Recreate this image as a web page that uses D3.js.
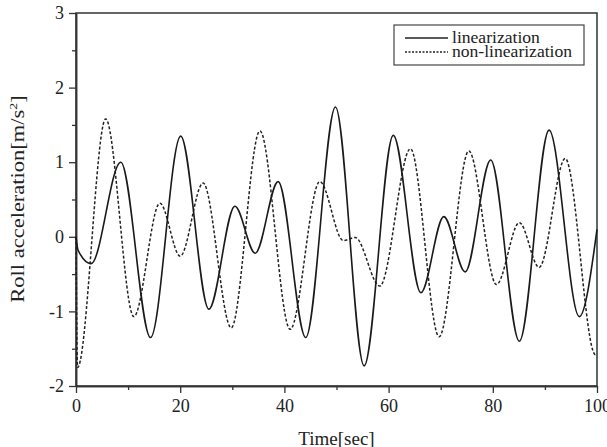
<!DOCTYPE html>
<html>
<head>
<meta charset="utf-8">
<script src="https://cdn.jsdelivr.net/npm/d3@7"></script>
<style>
  body { margin: 0; background: #fff; }
  text { font-family: "Liberation Serif", "Times New Roman", serif; fill: #222; }
</style>
</head>
<body>
<svg id="chart"></svg>
<script>
// data (time in sec, roll acceleration in m/s^2)
const linTime = [0, 0.4, 2.9, 8.6, 14.3, 20.1, 25.5, 30.5, 34.4, 38.8, 44.1, 49.8, 55.3, 60.9, 66.2, 70.6, 74.7, 79.6, 85.1, 90.8, 96.6, 100];
const linVal  = [0, -0.18, -0.36, 1.0, -1.35, 1.35, -0.97, 0.41, -0.22, 0.74, -1.35, 1.74, -1.73, 1.36, -0.75, 0.27, -0.47, 1.03, -1.40, 1.43, -1.07, 0.10];

const nonTime = [0, 0.3, 5.7, 11.1, 16.1, 20.0, 24.4, 29.8, 35.3, 41.1, 46.8, 51.3, 53.6, 58.3, 64.2, 69.7, 75.4, 80.7, 85.1, 88.9, 93.9, 99.7, 100];
const nonVal  = [0, -1.75, 1.58, -1.07, 0.45, -0.26, 0.72, -1.22, 1.42, -1.24, 0.74, -0.05, -0.01, -0.66, 1.18, -1.34, 1.15, -0.64, 0.19, -0.41, 1.05, -1.58, -1.57];

const xTicks = [0, 20, 40, 60, 80, 100];
const xMinor = [10, 30, 50, 70, 90];
const yTicks = [-2, -1, 0, 1, 2, 3];
const yMinor = [-1.5, -0.5, 0.5, 1.5, 2.5];

const seriesNames = ["linearization", "non-linearization"];

// layout
var margin = {top: 13, right: 10, bottom: 61, left: 76},
    W = 607, H = 447,
    width = W - margin.left - margin.right,
    height = H - margin.top - margin.bottom;

const svg = d3.select("#chart").attr("width", W).attr("height", H);
const g = svg.append("g").attr("transform", `translate(${margin.left},${margin.top})`);

const x = d3.scaleLinear().domain([0, 100]).range([0, width]);
const y = d3.scaleLinear().domain([-2, 3]).range([height, 0]);

const axisColor = "#333";

// frame
g.append("rect")
  .attr("width", width).attr("height", height)
  .attr("fill", "none").attr("stroke", axisColor).attr("stroke-width", 1.5);

// x axis (major + minor)
g.append("g").attr("transform", `translate(0,${height})`)
  .call(d3.axisBottom(x).tickValues(xTicks).tickSize(7).tickSizeOuter(0).tickPadding(6));
g.append("g").attr("transform", `translate(0,${height})`)
  .call(d3.axisBottom(x).tickValues(xMinor).tickSize(4).tickFormat("").tickSizeOuter(0));

// y axis (major + minor)
g.append("g")
  .call(d3.axisLeft(y).tickValues(yTicks).tickFormat(d => String(d)).tickSize(7).tickSizeOuter(0).tickPadding(5));
g.append("g")
  .call(d3.axisLeft(y).tickValues(yMinor).tickSize(4).tickFormat("").tickSizeOuter(0));

g.selectAll(".domain").attr("stroke", axisColor).attr("stroke-width", 1.5);
g.selectAll(".tick line").attr("stroke", axisColor).attr("stroke-width", 1.3);
g.selectAll(".tick text")
  .style("font-family", '"Liberation Serif", serif')
  .style("font-size", "18px").attr("fill", "#222");

// curves
const line = d3.line()
  .x(d => x(d[0]))
  .y(d => y(d[1]))
  .curve(d3.curveMonotoneX);

const linData = linTime.map((t, i) => [t, linVal[i]]);
const nonData = nonTime.map((t, i) => [t, nonVal[i]]);

g.append("path").datum(nonData)
  .attr("d", line).attr("fill", "none")
  .attr("stroke", "#222").attr("stroke-width", 1.5)
  .attr("stroke-dasharray", "3,2");

g.append("path").datum(linData)
  .attr("d", line).attr("fill", "none")
  .attr("stroke", "#1a1a1a").attr("stroke-width", 1.6);

// legend
const lg = svg.append("g").attr("transform", "translate(394,25)");
lg.append("rect").attr("width", 190).attr("height", 40)
  .attr("fill", "#fff").attr("stroke", "#444").attr("stroke-width", 1.2);
seriesNames.forEach((name, i) => {
  const yy = 13 + i * 14;
  lg.append("line").attr("x1", 11).attr("x2", 54).attr("y1", yy).attr("y2", yy)
    .attr("stroke", "#222").attr("stroke-width", 1.4)
    .attr("stroke-dasharray", i === 1 ? "2,1.5" : null);
  lg.append("text")
    .attr("transform", `translate(58,${yy + 5}) scale(1.1,1)`)
    .style("font-size", "16px").text(name);
});

// axis titles
svg.append("text")
  .attr("x", margin.left + width / 2).attr("y", 445)
  .attr("text-anchor", "middle")
  .style("font-size", "19px")
  .text("Time[sec]");

const yt = svg.append("text")
  .attr("transform", "translate(24,199) rotate(-90) scale(1.25,1)")
  .attr("text-anchor", "middle")
  .style("font-size", "18px");
yt.append("tspan").text("Roll acceleration[m/s");
yt.append("tspan").attr("dy", -7).style("font-size", "11px").text("2");
yt.append("tspan").attr("dy", 7).text("]");
</script>
</body>
</html>
